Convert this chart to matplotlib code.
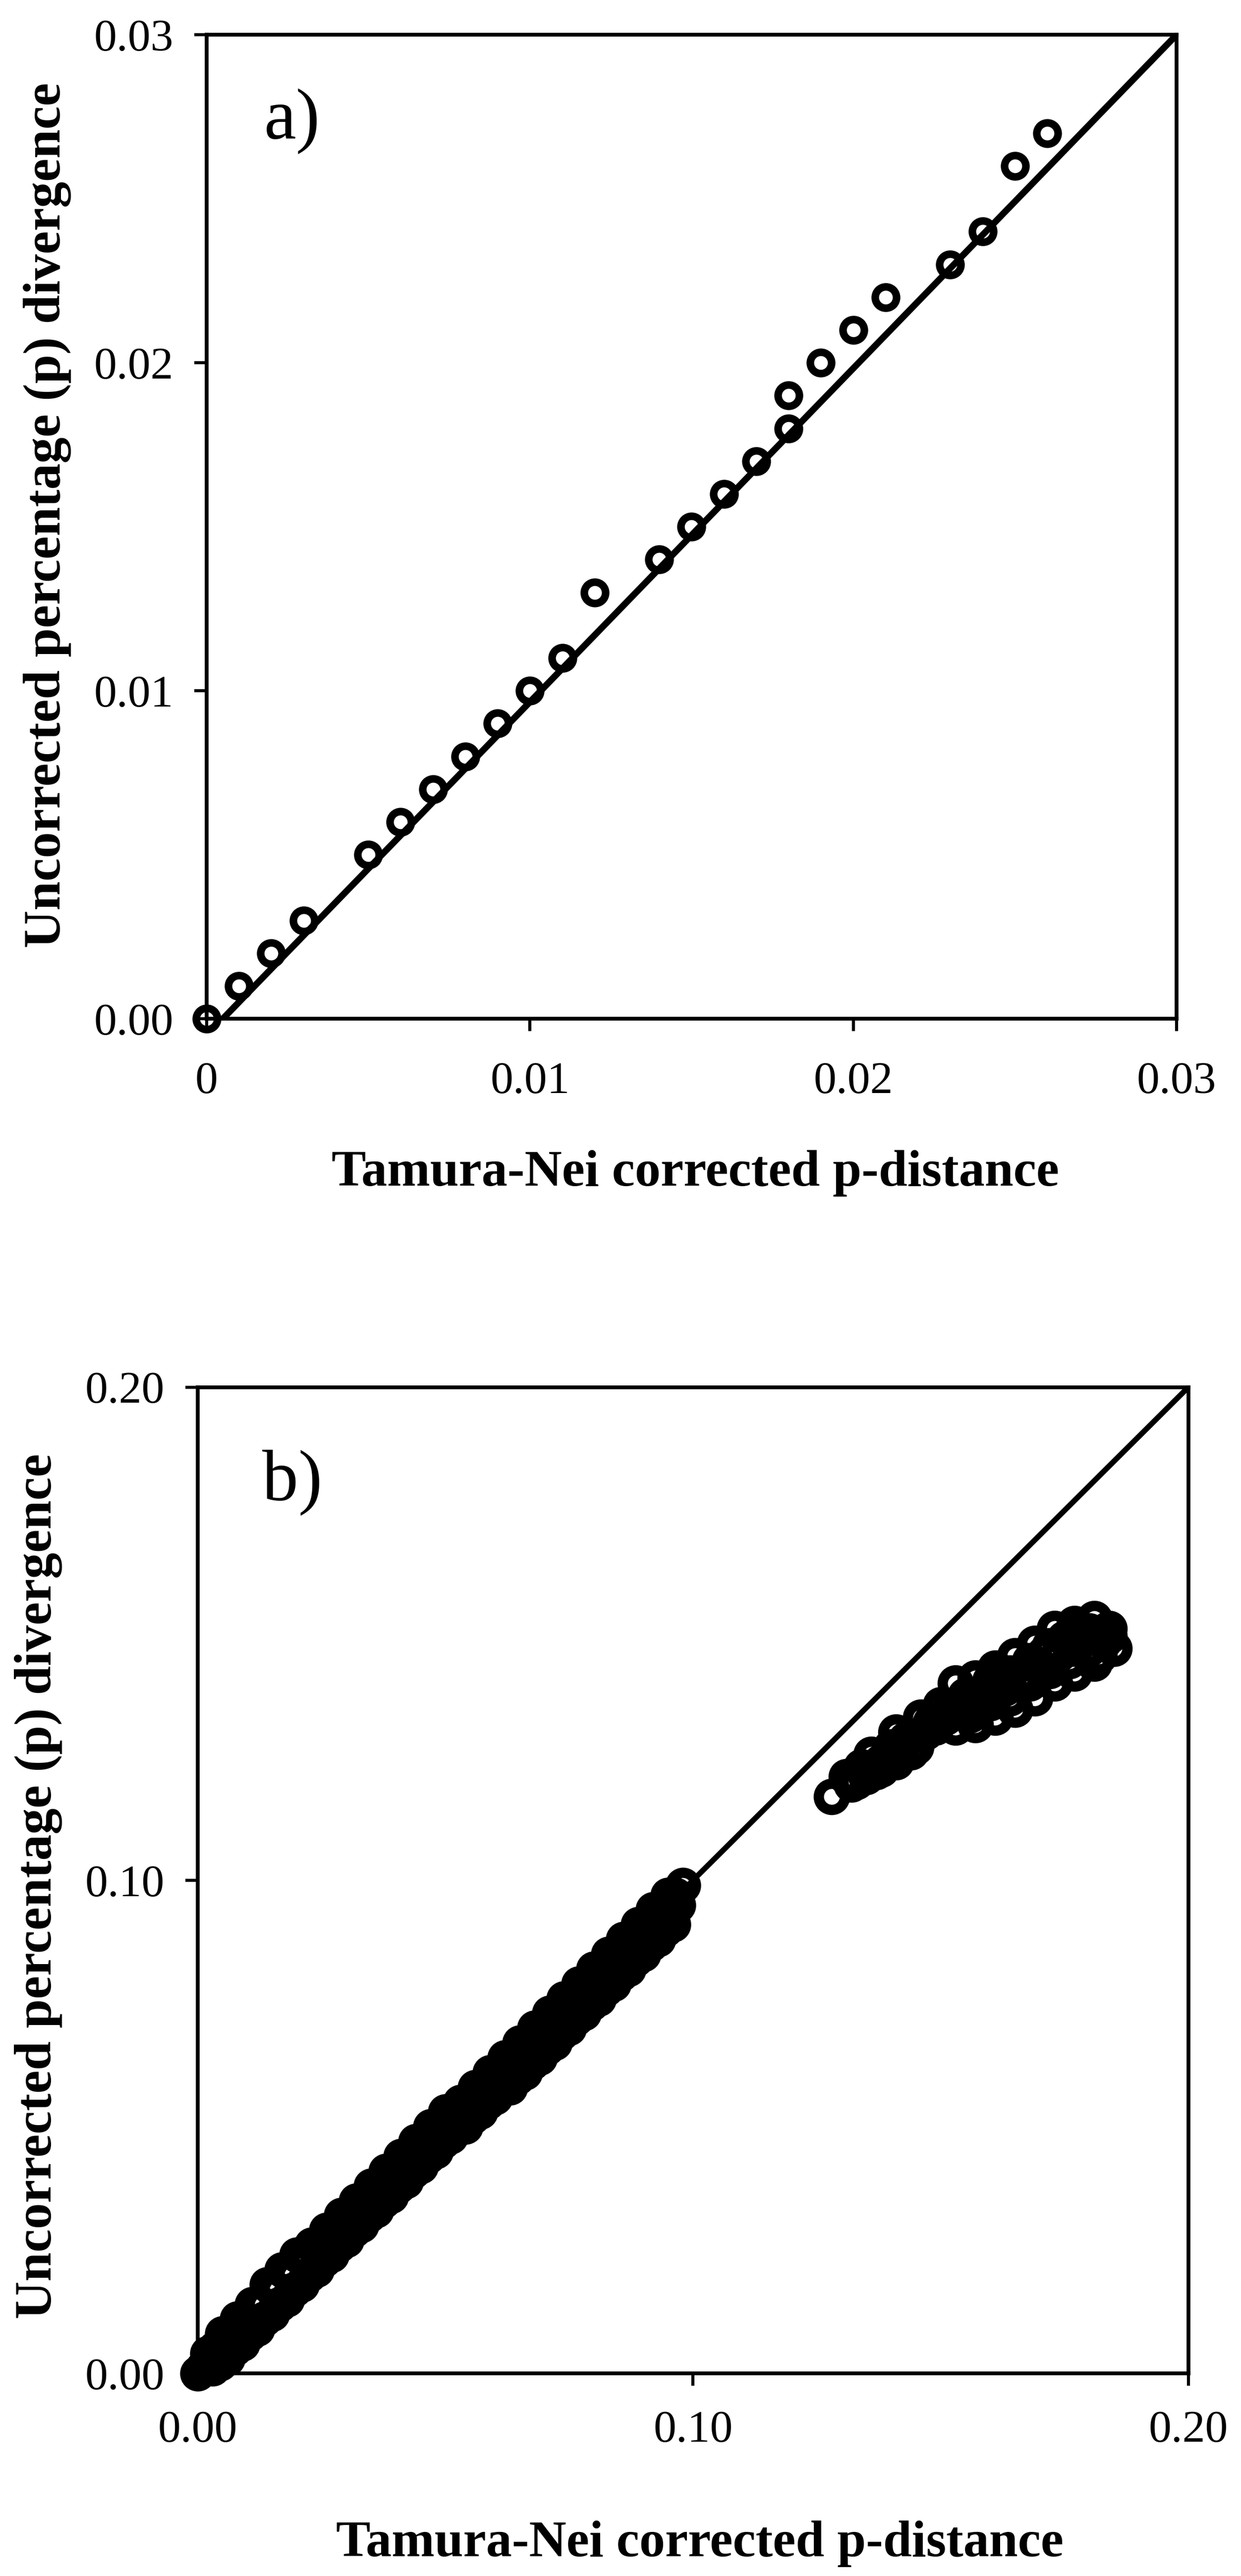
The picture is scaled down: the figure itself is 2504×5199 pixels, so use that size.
import matplotlib
matplotlib.use("Agg")
import matplotlib.pyplot as plt

plt.rcParams['font.family'] = ['Liberation Serif', 'DejaVu Serif']

# panel a: individual pairwise distances
a_tn = [0.000, 0.001, 0.002, 0.003, 0.005, 0.006, 0.007, 0.008, 0.009, 0.010,
        0.011, 0.012, 0.014, 0.015, 0.016, 0.017, 0.018, 0.018, 0.019, 0.020,
        0.021, 0.023, 0.024, 0.025, 0.026]
a_p = [0.000, 0.001, 0.002, 0.003, 0.005, 0.006, 0.007, 0.008, 0.009, 0.010,
       0.011, 0.013, 0.014, 0.015, 0.016, 0.017, 0.018, 0.019, 0.020, 0.021,
       0.022, 0.023, 0.024, 0.026, 0.027]
a_line_x = [0.0005, 0.030]
a_line_y = [0.000, 0.030]

# panel b: dense band below 0.10 (upper edge, lower edge, middle, two in-between rows)
band_tn = [0.002, 0.005, 0.008, 0.011, 0.014, 0.017, 0.020, 0.023, 0.026, 0.029,
           0.032, 0.035, 0.038, 0.041, 0.044, 0.047, 0.050, 0.053, 0.056, 0.059,
           0.062, 0.065, 0.068, 0.071, 0.074, 0.077, 0.080, 0.083, 0.086, 0.089,
           0.092, 0.095, 0.098,
           0.003, 0.006, 0.009, 0.012, 0.015, 0.018, 0.021, 0.024, 0.027, 0.030,
           0.033, 0.036, 0.039, 0.042, 0.045, 0.048, 0.051, 0.054, 0.057, 0.060,
           0.063, 0.066, 0.069, 0.072, 0.075, 0.078, 0.081, 0.084, 0.087, 0.090,
           0.093, 0.096,
           0.000, 0.001, 0.004, 0.007, 0.010, 0.013, 0.016, 0.019, 0.022, 0.025,
           0.028, 0.031, 0.034, 0.037, 0.040, 0.043, 0.046, 0.049, 0.052, 0.055,
           0.058, 0.061, 0.064, 0.067, 0.070, 0.073, 0.076, 0.079, 0.082, 0.085,
           0.088, 0.091, 0.094, 0.097,
           0.0035, 0.0065, 0.0095, 0.0125, 0.0155, 0.0185, 0.0215, 0.0245, 0.0275,
           0.0305, 0.0335, 0.0365, 0.0395, 0.0425, 0.0455, 0.0485, 0.0515, 0.0545,
           0.0575, 0.0605, 0.0635, 0.0665, 0.0695, 0.0725, 0.0755, 0.0785, 0.0815,
           0.0845, 0.0875, 0.0905, 0.0935, 0.0965,
           0.0045, 0.0075, 0.0105, 0.0135, 0.0165, 0.0195, 0.0225, 0.0255, 0.0285,
           0.0315, 0.0345, 0.0375, 0.0405, 0.0435, 0.0465, 0.0495, 0.0525, 0.0555,
           0.0585, 0.0615, 0.0645, 0.0675, 0.0705, 0.0735, 0.0765, 0.0795, 0.0825,
           0.0855, 0.0885, 0.0915, 0.0945]
band_p = [0.004, 0.008, 0.011, 0.014, 0.018, 0.021, 0.024, 0.026, 0.029, 0.032,
          0.035, 0.038, 0.041, 0.044, 0.047, 0.050, 0.053, 0.055, 0.058, 0.061,
          0.064, 0.067, 0.070, 0.073, 0.076, 0.079, 0.082, 0.085, 0.088, 0.091,
          0.094, 0.097, 0.099,
          0.001, 0.003, 0.006, 0.009, 0.012, 0.015, 0.018, 0.021, 0.024, 0.027,
          0.030, 0.033, 0.036, 0.039, 0.042, 0.045, 0.048, 0.050, 0.053, 0.056,
          0.058, 0.061, 0.064, 0.067, 0.070, 0.073, 0.076, 0.079, 0.082, 0.085,
          0.088, 0.091,
          0.000, 0.001, 0.004, 0.007, 0.010, 0.014, 0.017, 0.020, 0.023, 0.025,
          0.028, 0.031, 0.034, 0.037, 0.040, 0.043, 0.046, 0.049, 0.051, 0.054,
          0.057, 0.060, 0.062, 0.065, 0.068, 0.071, 0.074, 0.077, 0.080, 0.083,
          0.086, 0.089, 0.092, 0.095,
          0.005, 0.008, 0.011, 0.014, 0.017, 0.020, 0.023, 0.026, 0.029,
          0.032, 0.035, 0.038, 0.041, 0.044, 0.047, 0.050, 0.053, 0.055,
          0.058, 0.061, 0.064, 0.067, 0.070, 0.073, 0.076, 0.079, 0.082,
          0.085, 0.088, 0.091, 0.094, 0.097,
          0.002, 0.005, 0.008, 0.011, 0.014, 0.017, 0.020, 0.023, 0.026,
          0.029, 0.032, 0.035, 0.038, 0.041, 0.044, 0.047, 0.050, 0.052,
          0.055, 0.058, 0.060, 0.063, 0.066, 0.069, 0.072, 0.075, 0.078,
          0.081, 0.084, 0.087, 0.090]

# panel b: saturated cluster above 0.12
clus_tn = [0.131, 0.136, 0.141, 0.146, 0.150, 0.153, 0.157, 0.161, 0.165, 0.169,
           0.173, 0.177, 0.181, 0.184,
           0.128, 0.133, 0.137, 0.141, 0.145, 0.149, 0.153, 0.157, 0.161, 0.165,
           0.169, 0.173, 0.177, 0.181, 0.185,
           0.140, 0.148, 0.156, 0.163, 0.170, 0.177, 0.182,
           0.134, 0.138, 0.143, 0.147, 0.151, 0.155, 0.159, 0.160, 0.167, 0.171,
           0.175, 0.179, 0.183, 0.166, 0.158, 0.152,
           0.150, 0.154, 0.158, 0.162, 0.164, 0.168, 0.172, 0.174, 0.176, 0.180,
           0.178, 0.184, 0.144, 0.139, 0.135, 0.132,
           0.142, 0.146, 0.156, 0.160, 0.164, 0.168, 0.172, 0.176, 0.180, 0.182,
           0.138, 0.161]
clus_p = [0.121, 0.1255, 0.130, 0.133, 0.1355, 0.140, 0.141, 0.143, 0.1455, 0.148,
          0.151, 0.152, 0.153, 0.151,
          0.117, 0.120, 0.122, 0.124, 0.127, 0.131, 0.131, 0.1315, 0.133, 0.1346,
          0.137, 0.140, 0.142, 0.144, 0.147,
          0.127, 0.132, 0.136, 0.139, 0.143, 0.147, 0.149,
          0.123, 0.124, 0.1285, 0.130, 0.133, 0.1375, 0.138, 0.1405, 0.1415, 0.146,
          0.149, 0.150, 0.1485, 0.140, 0.135, 0.135,
          0.1325, 0.1355, 0.1375, 0.1385, 0.142, 0.1445, 0.1425, 0.146, 0.1445, 0.147,
          0.1505, 0.1495, 0.126, 0.1245, 0.121, 0.1195,
          0.1265, 0.1295, 0.1335, 0.136, 0.137, 0.140, 0.1475, 0.1485, 0.1505, 0.1455,
          0.1225, 0.141]

b_line_x = [0.0, 0.2]
b_line_y = [0.0, 0.2]

xlab = 'Tamura-Nei corrected p-distance'
ylab = 'Uncorrected percentage (p) divergence'

fig = plt.figure(figsize=(25.04, 51.99), dpi=100)
ax1 = fig.add_axes([0.1665, 0.6045, 0.7816, 0.3820])
ax2 = fig.add_axes([0.1593, 0.0787, 0.7983, 0.3828])


def style(ax):
    for s in ax.spines.values():
        s.set_linewidth(5.5)
    ax.tick_params(direction='out', length=18, width=4.5, labelsize=66)
    ax.tick_params(axis='x', pad=44)
    ax.tick_params(axis='y', pad=30)


ax1.plot(a_line_x, a_line_y, color='black', lw=9.5, solid_capstyle='butt')
ax1.plot(a_tn, a_p, 'o', ms=31, mfc='none', mec='black', mew=11, clip_on=False)
ax1.set_xlim(0, 0.03)
ax1.set_ylim(0, 0.03)
ax1.set_xticks([0, 0.01, 0.02, 0.03])
ax1.set_xticklabels(['0', '0.01', '0.02', '0.03'])
ax1.set_yticks([0, 0.01, 0.02, 0.03])
ax1.set_yticklabels(['0.00', '0.01', '0.02', '0.03'])
style(ax1)
ax1.set_xlabel(xlab, fontsize=75, fontweight='bold', va='center')
ax1.xaxis.set_label_coords(0.504, -0.157)
ax1.set_ylabel(ylab, fontsize=76, fontweight='bold', va='center')
ax1.yaxis.set_label_coords(-0.164, 0.512)
ax1.text(0.088, 0.912, 'a)', transform=ax1.transAxes, fontsize=105,
         ha='center', va='center')

ax2.plot(b_line_x, b_line_y, color='black', lw=8, solid_capstyle='butt')
ax2.plot(band_tn, band_p, 'o', ms=37, mfc='none', mec='black', mew=15, clip_on=False)
ax2.plot(clus_tn, clus_p, 'o', ms=38, mfc='none', mec='black', mew=15, clip_on=False)
ax2.set_xlim(0, 0.2)
ax2.set_ylim(0, 0.2)
ax2.set_xticks([0, 0.1, 0.2])
ax2.set_xticklabels(['0.00', '0.10', '0.20'])
ax2.set_yticks([0, 0.1, 0.2])
ax2.set_yticklabels(['0.00', '0.10', '0.20'])
style(ax2)
ax2.tick_params(axis='x', pad=36)
ax2.set_xlabel(xlab, fontsize=75, fontweight='bold', va='center')
ax2.xaxis.set_label_coords(0.507, -0.173)
ax2.set_ylabel(ylab, fontsize=76, fontweight='bold', va='center')
ax2.yaxis.set_label_coords(-0.161, 0.494)
ax2.text(0.0955, 0.903, 'b)', transform=ax2.transAxes, fontsize=105,
         ha='center', va='center')

fig.savefig('out.png', dpi=100, facecolor='white')
